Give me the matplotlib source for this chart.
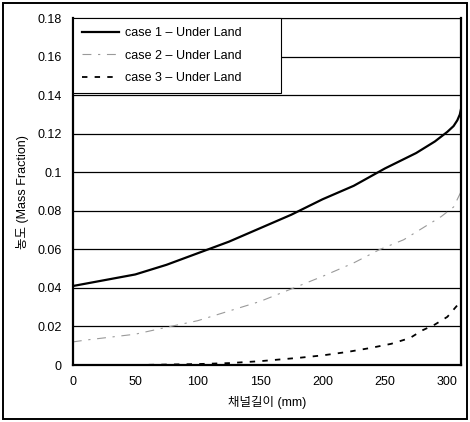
import matplotlib
matplotlib.use("Agg")
import matplotlib.pyplot as plt
from matplotlib.patches import Rectangle
from matplotlib.ticker import FuncFormatter

plt.rcParams["font.family"] = ["Liberation Sans", "Noto Sans CJK KR", "DejaVu Sans"]

# channel length (mm) and mass fraction
x_case1 = [0, 25, 50, 75, 100, 125, 150, 175, 200, 225, 250, 275, 290, 300, 305, 308, 310, 311]
y_case1 = [0.041, 0.044, 0.047, 0.052, 0.058, 0.064, 0.071, 0.078, 0.086, 0.093,
           0.102, 0.110, 0.116, 0.121, 0.124, 0.127, 0.130, 0.133]

x_case2 = [0, 11, 50, 78, 100, 125, 150, 177, 200, 225, 246, 265, 280, 295, 305, 311]
y_case2 = [0.012, 0.013, 0.016, 0.020, 0.023, 0.028, 0.033, 0.040, 0.046, 0.053,
           0.060, 0.065, 0.071, 0.077, 0.082, 0.090]

x_case3 = [0, 50, 100, 125, 150, 182, 200, 220, 238, 255, 270, 280, 290, 300, 308, 311]
y_case3 = [0.0, 0.0, 0.0005, 0.001, 0.002, 0.0038, 0.005, 0.0068, 0.0088, 0.011,
           0.014, 0.018, 0.021, 0.025, 0.031, 0.034]

labels = ["case 1 – Under Land", "case 2 – Under Land", "case 3 – Under Land"]

fig = plt.figure(figsize=(4.7, 4.22), dpi=100)
ax = fig.add_axes([0.155, 0.135, 0.826, 0.822])

ax.plot(x_case1, y_case1, color="black", linewidth=1.6, label=labels[0])
ax.plot(x_case2, y_case2, color="#9a9a9a", linewidth=0.8,
        linestyle=(0, (8, 6, 2, 6)), label=labels[1])
ax.plot(x_case3, y_case3, color="black", linewidth=1.3,
        linestyle=(0, (3, 4)), label=labels[2])

ax.set_xlim(0, 311)
ax.set_ylim(0, 0.18)
ax.set_xticks(range(0, 301, 50))
ax.set_yticks([i * 0.02 for i in range(10)])
ax.yaxis.set_major_formatter(FuncFormatter(lambda v, pos: f"{v:g}"))
ax.tick_params(axis="both", length=0, labelsize=9, pad=8)

ax.grid(axis="y", color="black", linewidth=0.9)
ax.set_axisbelow(True)
for side in ["left", "bottom", "right"]:
    ax.spines[side].set_linewidth(1.6)
ax.spines["top"].set_linewidth(0.8)

ax.set_xlabel("채널길이 (mm)", fontsize=9, labelpad=6)
ax.set_ylabel("농도 (Mass Fraction)", fontsize=9, labelpad=6)

leg = ax.legend(loc="upper left", bbox_to_anchor=(0, 0.56, 0.535, 0.44),
                mode="expand", fontsize=9, frameon=True, fancybox=False,
                framealpha=1, edgecolor="black", borderaxespad=0,
                handlelength=3.0, handletextpad=0.5, labelspacing=0.85, borderpad=0.7)
leg.get_frame().set_linewidth(0.8)

fig.patches.append(Rectangle((0.006, 0.006), 0.988, 0.988, transform=fig.transFigure,
                             fill=False, edgecolor="black", linewidth=1.4))

fig.savefig("out.png", dpi=100)
